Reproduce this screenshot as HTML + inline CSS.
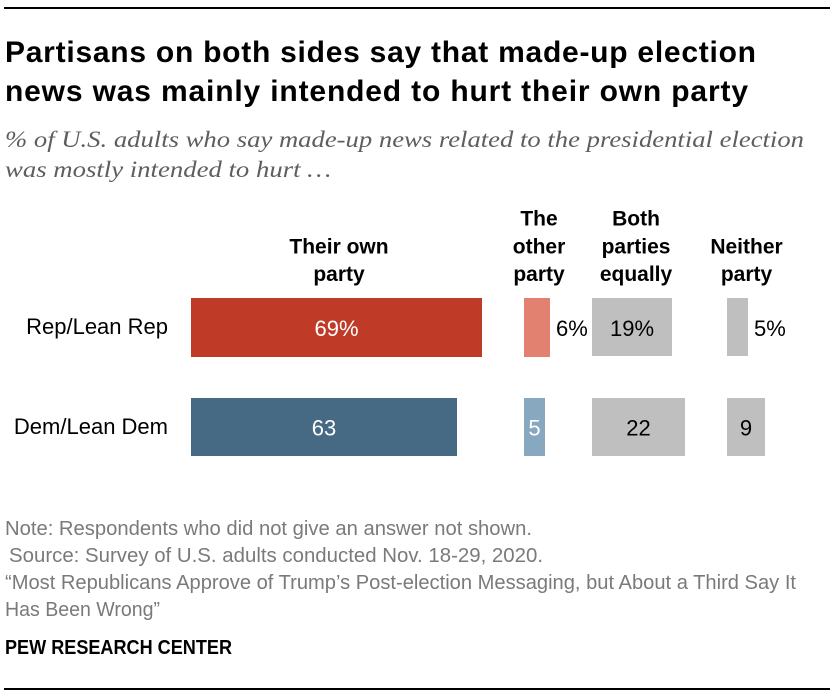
<!DOCTYPE html>
<html>
<head>
<meta charset="utf-8">
<style>
  html, body { margin: 0; padding: 0; background: #fff; }
  body { width: 836px; height: 698px; overflow: hidden; }
  svg { display: block; }
  .t { font-family: "Liberation Sans", Arial, sans-serif; font-weight: bold; fill: #000; }
  .sub { font-family: "Liberation Serif", "DejaVu Serif", serif; font-style: italic; fill: #5e5e5e; }
  .hdr { font-family: "Liberation Sans", Arial, sans-serif; font-weight: bold; font-size: 21px; fill: #000; }
  .lbl { font-family: "Liberation Sans", Arial, sans-serif; font-size: 22px; fill: #000; }
  .val { font-family: "Liberation Sans", Arial, sans-serif; font-size: 22px; }
  .ft { font-family: "Liberation Sans", Arial, sans-serif; font-size: 20px; fill: #7a7a7a; }
  .pew { font-family: "Liberation Sans", Arial, sans-serif; font-weight: bold; font-size: 20px; fill: #000; }
</style>
</head>
<body>
<svg width="836" height="698" viewBox="0 0 836 698" xmlns="http://www.w3.org/2000/svg">
  <rect x="0" y="0" width="836" height="698" fill="#fff"/>
  <!-- top rule -->
  <rect x="4" y="7" width="826" height="2" fill="#000"/>

  <!-- title -->
  <text class="t" x="5" y="62" font-size="30" textLength="751" lengthAdjust="spacing">Partisans on both sides say that made-up election</text>
  <text class="t" x="5" y="101" font-size="30" textLength="743" lengthAdjust="spacing">news was mainly intended to hurt their own party</text>

  <!-- subtitle -->
  <text class="sub" x="5" y="147" font-size="23" textLength="799" lengthAdjust="spacingAndGlyphs">% of U.S. adults who say made-up news related to the presidential election</text>
  <text class="sub" x="5" y="177" font-size="23" textLength="326" lengthAdjust="spacingAndGlyphs">was mostly intended to hurt …</text>

  <!-- column headers -->
  <text class="hdr" x="339" y="253.5" text-anchor="middle">Their own</text>
  <text class="hdr" x="339" y="281" text-anchor="middle">party</text>

  <text class="hdr" x="539" y="225.5" text-anchor="middle">The</text>
  <text class="hdr" x="539" y="253.5" text-anchor="middle">other</text>
  <text class="hdr" x="539" y="281" text-anchor="middle">party</text>

  <text class="hdr" x="636" y="225.5" text-anchor="middle">Both</text>
  <text class="hdr" x="636" y="253.5" text-anchor="middle">parties</text>
  <text class="hdr" x="636" y="281" text-anchor="middle">equally</text>

  <text class="hdr" x="746.5" y="253.5" text-anchor="middle">Neither</text>
  <text class="hdr" x="746.5" y="281" text-anchor="middle">party</text>

  <!-- row labels -->
  <text class="lbl" x="168" y="334" text-anchor="end">Rep/Lean Rep</text>
  <text class="lbl" x="168" y="434" text-anchor="end">Dem/Lean Dem</text>

  <!-- Row 1 bars -->
  <rect x="191" y="298" width="291" height="59" fill="#bf3b28"/>
  <rect x="524" y="298" width="26" height="59" fill="#e38170"/>
  <rect x="592" y="298" width="80" height="58" fill="#bfbfbf"/>
  <rect x="727" y="298" width="21" height="58" fill="#bfbfbf"/>

  <!-- Row 2 bars -->
  <rect x="191" y="398" width="266" height="58" fill="#466a84"/>
  <rect x="524" y="398" width="21" height="58" fill="#87a8bf"/>
  <rect x="592" y="398" width="93" height="58" fill="#bfbfbf"/>
  <rect x="727" y="398" width="38" height="58" fill="#bfbfbf"/>

  <!-- values row 1 -->
  <text class="val" x="336.5" y="336" text-anchor="middle" fill="#fff">69%</text>
  <text class="val" x="556" y="336" fill="#000">6%</text>
  <text class="val" x="632" y="336" text-anchor="middle" fill="#000">19%</text>
  <text class="val" x="754" y="336" fill="#000">5%</text>

  <!-- values row 2 -->
  <text class="val" x="324" y="435.5" text-anchor="middle" fill="#fff">63</text>
  <text class="val" x="534.5" y="435.5" text-anchor="middle" fill="#fff">5</text>
  <text class="val" x="638.5" y="435.5" text-anchor="middle" fill="#000">22</text>
  <text class="val" x="746" y="435.5" text-anchor="middle" fill="#000">9</text>

  <!-- footer -->
  <text class="ft" x="5" y="535" textLength="527" lengthAdjust="spacingAndGlyphs">Note: Respondents who did not give an answer not shown.</text>
  <text class="ft" x="9" y="562" textLength="534" lengthAdjust="spacingAndGlyphs">Source: Survey of U.S. adults conducted Nov. 18-29, 2020.</text>
  <text class="ft" x="5" y="589" textLength="791" lengthAdjust="spacingAndGlyphs">“Most Republicans Approve of Trump’s Post-election Messaging, but About a Third Say It</text>
  <text class="ft" x="5" y="616" textLength="155" lengthAdjust="spacingAndGlyphs">Has Been Wrong”</text>

  <text class="pew" x="5" y="654" textLength="227" lengthAdjust="spacingAndGlyphs">PEW RESEARCH CENTER</text>

  <!-- bottom rule -->
  <rect x="4" y="688" width="826" height="2" fill="#000"/>
</svg>
</body>
</html>
